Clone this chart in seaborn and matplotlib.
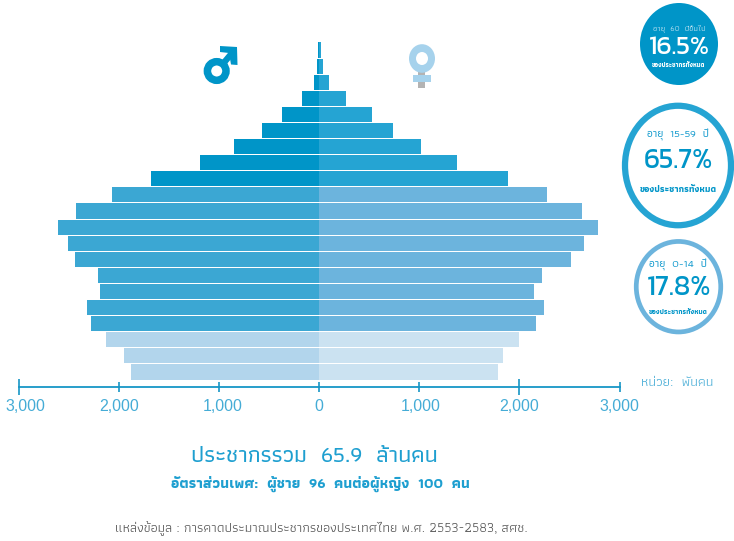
import matplotlib
matplotlib.use("Agg")
import numpy as np
import pandas as pd
import matplotlib.pyplot as plt
import seaborn as sns
from matplotlib.patches import Circle, Ellipse, Polygon, Rectangle
from matplotlib.transforms import ScaledTranslation

# --- data, thousand people, oldest group first
age_groups = ["100+", "95-99", "90-94", "85-89", "80-84", "75-79", "70-74", "65-69", "60-64",
              "55-59", "50-54", "45-49", "40-44", "35-39", "30-34", "25-29", "20-24", "15-19",
              "10-14", "5-9", "0-4"]
male = [13, 20, 53, 173, 369, 569, 845, 1191, 1680,
        2069, 2425, 2602, 2508, 2438, 2209, 2182, 2318, 2278,
        2123, 1950, 1880]
female = [17, 37, 96, 269, 529, 738, 1018, 1374, 1883,
          2272, 2628, 2781, 2645, 2518, 2222, 2149, 2245, 2169,
          1999, 1833, 1786]
bands = ["60+"] * 9 + ["15-59"] * 9 + ["0-14"] * 3
tick_vals = [-3000, -2000, -1000, 0, 1000, 2000, 3000]
tick_labels = ["3,000", "2,000", "1,000", "0", "1,000", "2,000", "3,000"]

male_pal = {"60+": "#0095C8", "15-59": "#3BA7D3", "0-14": "#B2D5EC"}
female_pal = {"60+": "#25A4D3", "15-59": "#6CB4DD", "0-14": "#CBE2F1"}

THAI = ["Athiti", "Sarabun", "Loma", "DejaVu Sans"]
NUMS = ["Kanit", "Prompt", "Lato", "DejaVu Sans"]
BLUE = "#1E9FD0"

df = pd.DataFrame({"age": age_groups, "band": bands,
                   "male": -np.array(male), "female": female})

sns.set_theme(style="white")
W, H = 734, 541
fig = plt.figure(figsize=(W / 100, H / 100), dpi=100, facecolor="white")
# bars run 18.5..619.5 px across, 42..380 px down
ax = fig.add_axes([18.5 / W, 1 - 380 / H, 601 / W, 338 / H])

for col, pal in (("male", male_pal), ("female", female_pal)):
    sns.barplot(data=df, y="age", x=col, hue="band", palette=pal, order=age_groups,
                dodge=False, width=0.94, legend=False, ax=ax, linewidth=0, saturation=1)

ax.set_xlim(-3000, 3000)
ax.set_ylim(20.5, -0.5)
ax.set_xlabel("")
ax.set_ylabel("")
ax.set_yticks([])
sns.despine(ax=ax, left=True)
ax.spines["bottom"].set_position(("outward", 5))
ax.spines["bottom"].set_color("#1796C6")
ax.spines["bottom"].set_linewidth(1.3)
ax.set_xticks(tick_vals)
ax.set_xticklabels(tick_labels, family=["Liberation Sans Narrow", "Liberation Sans"], fontsize=11.5, color="#45ACD6")
ax.tick_params(axis="x", direction="inout", length=7, width=1.2, color="#1796C6", pad=5, bottom=True)
label_shift = {-3000: 7, -2000: 0.5, -1000: 3.5, 1000: 1.5}
for v, t in zip(tick_vals, ax.xaxis.get_major_ticks()):
    if v in (-3000, 2000):
        t.tick1line.set_markersize(11.5)
for v, lab in zip(tick_vals, ax.get_xticklabels()):
    if v in label_shift:
        lab.set_transform(lab.get_transform() + ScaledTranslation(label_shift[v] / 100, 0, fig.dpi_scale_trans))
ax.patch.set_alpha(0)

# --- overlay in pixel coordinates for the icons, rings and captions
ov = fig.add_axes([0, 0, 1, 1], zorder=3)
ov.set_xlim(0, W)
ov.set_ylim(H, 0)
ov.axis("off")

# male symbol
ov.add_patch(Circle((216.7, 71), 9.3, fc="none", ec="#0095C8", lw=5.4))
ov.plot([222, 232], [65, 53], color="#0095C8", lw=4.5, solid_capstyle="butt")
ov.add_patch(Polygon([(220, 46), (237, 47), (237.5, 65), (231, 64.5), (229, 53), (220, 52)], fc="#0095C8", ec="none"))
# female symbol
ov.add_patch(Rectangle((418, 68), 7, 20, fc="#B3B3B3", ec="none"))
ov.add_patch(Rectangle((413, 75), 18, 7, fc="#A6D2EC", ec="none"))
ov.add_patch(Ellipse((422, 58.5), 26, 28.6, fc="#A6D2EC", ec="none"))
ov.add_patch(Ellipse((422, 58.5), 12, 13, fc="white", ec="none"))

# age share circles, a little taller than wide as in the source graphic
ov.add_patch(Ellipse((679, 44), 78, 82, fc="#0095C8", ec="none"))
ov.add_patch(Ellipse((678, 165.5), 106, 119.5, fc="white", ec="#25A4D3", lw=4.5))
ov.add_patch(Ellipse((678.5, 286.7), 84.5, 90.5, fc="white", ec="#6CB4DD", lw=3.4))

ov.text(679, 29, "อายุ  60  ปีขึ้นไป", color="#CDE8F4", fontsize=6, ha="center", va="center", family=THAI)
ov.text(679, 48.5, "16.5%", color="white", fontsize=19, ha="center", va="center", family=NUMS)
ov.text(678, 65.5, "ของประชากรทั้งหมด", color="white", fontsize=4.6, ha="center", va="center", family=THAI, fontweight="bold")

ov.text(678, 135, "อายุ  15-59  ปี", color=BLUE, fontsize=8, ha="center", va="center", family=THAI, fontweight="medium")
ov.text(678, 161.5, "65.7%", color="#0095C8", fontsize=20, ha="center", va="center", family=NUMS)
ov.text(678, 189, "ของประชากรทั้งหมด", color="#0095C8", fontsize=6.6, ha="center", va="center", family=THAI, fontweight="bold")

ov.text(678, 264.5, "อายุ  0-14  ปี", color=BLUE, fontsize=8, ha="center", va="center", family=THAI, fontweight="medium")
ov.text(679, 288, "17.8%", color="#0095C8", fontsize=20, ha="center", va="center", family=NUMS)
ov.text(678, 312, "ของประชากรทั้งหมด", color="#0095C8", fontsize=5, ha="center", va="center", family=THAI, fontweight="bold")

ov.text(677.5, 383, "หน่วย:  พันคน", color="#45ACD6", fontsize=9.9, ha="center", va="center", family=THAI)

ov.text(314.5, 456, "ประชากรรวม  65.9  ล้านคน", color="#1E9FD0", fontsize=16.8, ha="center", va="center", family=THAI, fontweight="medium")
ov.text(320, 484, "อัตราส่วนเพศ:  ผู้ชาย  96  คนต่อผู้หญิง  100  คน", color="#1E9FD0", fontsize=10.6,
        ha="center", va="center", family=THAI, fontweight="bold")
ov.text(321, 529, "แหล่งข้อมูล : การคาดประมาณประชากรของประเทศไทย พ.ศ. 2553-2583, สศช.", color="#555555",
        fontsize=9.9, ha="center", va="center", family=THAI)

fig.savefig("out.png", dpi=100)
